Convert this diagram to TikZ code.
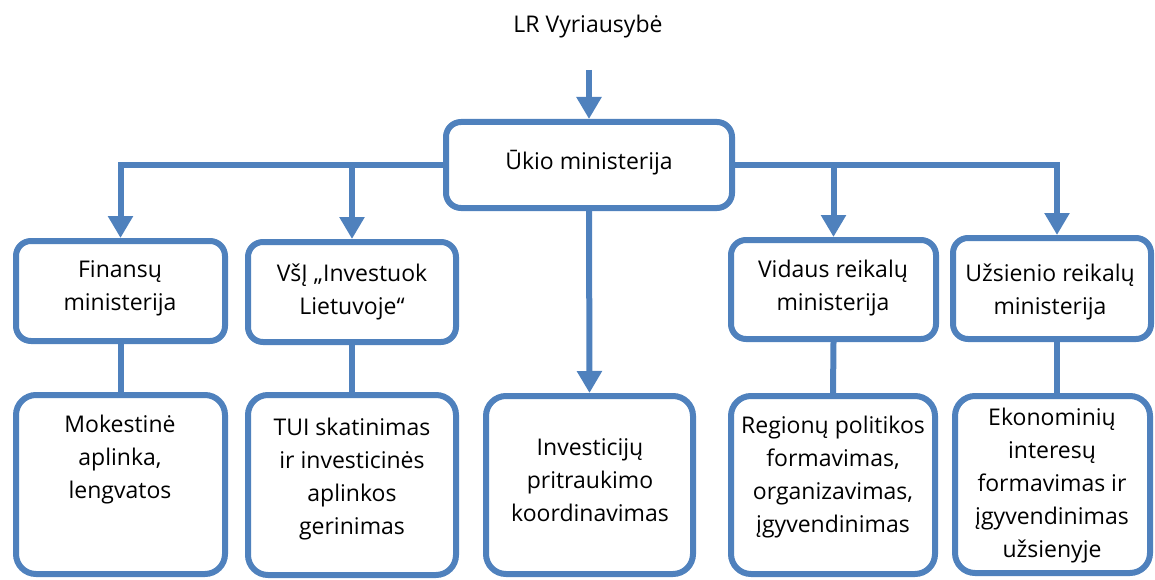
\documentclass[tikz,border=0pt]{standalone}
\usepackage{fontspec}
\setmainfont{Open Sans}
\usetikzlibrary{arrows.meta}
\definecolor{lineblue}{RGB}{79,129,189}
\tikzset{
  box/.style={draw=lineblue, line width=6pt, rounded corners=15pt, fill=white, inner sep=0pt},
  bigbox/.style={box, rounded corners=20pt},
  txt/.style={align=center, font=\fontsize{23}{33}\selectfont, text=black, inner sep=0pt},
  conn/.style={draw=lineblue, line width=6pt},
  arr/.style={conn, -{Triangle[width=24pt,length=22pt]}}
}
\begin{document}
\begin{tikzpicture}[x=1pt,y=-1pt]
\useasboundingbox (0,0) rectangle (1155,580);
% title
\node[txt] (lr) at (588,27) {LR Vyriausybė};
\coordinate (top) at (589,70);
% boxes
\node[box, minimum width=286pt, minimum height=86pt] (uk) at (589,165) {};
\node[box, minimum width=209pt, minimum height=100pt] (fin) at (120.5,291) {};
\node[box, minimum width=208pt, minimum height=100pt] (vsi) at (352,292) {};
\node[box, minimum width=205pt, minimum height=99pt] (vid) at (833.5,289.5) {};
\node[box, minimum width=198pt, minimum height=101pt] (uzs) at (1052,288.5) {};
\node[bigbox, minimum width=209pt, minimum height=179pt] (mok) at (120.5,484.5) {};
\node[bigbox, minimum width=208pt, minimum height=180pt] (tui) at (352,485) {};
\node[bigbox, minimum width=207pt, minimum height=178pt] (inv) at (589.5,485) {};
\node[bigbox, minimum width=204pt, minimum height=178pt] (reg) at (833,485) {};
\node[bigbox, minimum width=195pt, minimum height=177pt] (eko) at (1052.5,484.5) {};
% texts
\node[txt] (tuk) at (589,163) {Ūkio ministerija};
\node[txt] (tfin) at (120,288) {Finansų\\ministerija};
\node[txt] (tvsi) at (352,292) {VšĮ „Investuok\\Lietuvoje“};
\node[txt] (tvid) at (833,288) {Vidaus reikalų\\ministerija};
\node[txt] (tuzs) at (1050,292) {Užsienio reikalų\\ministerija};
\node[txt] (tmok) at (120,460) {Mokestinė\\aplinka,\\lengvatos};
\node[txt] (ttui) at (352,479) {TUI skatinimas\\ir investicinės\\aplinkos\\gerinimas};
\node[txt] (tinv) at (590,480) {Investicijų\\pritraukimo\\koordinavimas};
\node[txt] (treg) at (833,477) {Regionų politikos\\formavimas,\\organizavimas,\\įgyvendinimas};
\node[txt] (teko) at (1052,486) {Ekonominių\\interesų\\formavimas ir\\įgyvendinimas\\užsienyje};
% connectors
\draw[arr] (top) -- (uk.north);
\draw[arr] (uk.west) -| (fin.north);
\draw[arr] (vsi.north |- uk.west) -- (vsi.north);
\draw[arr] (uk.south) -- (inv.north);
\draw[arr] (uk.east) -| ([xshift=5pt]uzs.north);
\draw[arr] (vid.north |- uk.east) -- (vid.north);
\draw[conn] (fin.south) -- (mok.north);
\draw[conn] (vsi.south) -- (tui.north);
\draw[conn] (vid.south) -- (reg.north);
\draw[conn] ([xshift=5pt]uzs.south) -- ([xshift=4.5pt]eko.north);
\end{tikzpicture}
\end{document}
